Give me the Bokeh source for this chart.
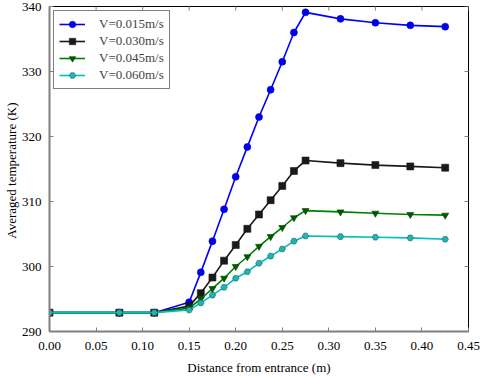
import math
from bokeh.plotting import figure
from bokeh.models import (LinearAxis, Range1d, FixedTicker, Legend, LegendItem,
                          NumeralTickFormatter)
from bokeh.embed import file_html
from bokeh.resources import INLINE

distance = [0.0, 0.075, 0.1125, 0.15, 0.1625, 0.175, 0.1875, 0.2, 0.2125, 0.225,
            0.2375, 0.25, 0.2625, 0.275, 0.3125, 0.35, 0.3875, 0.425]
t_v015 = [292.9, 292.9, 292.9, 294.5, 299.1, 303.9, 308.8, 313.8, 318.4, 323.0,
          327.2, 331.5, 336.0, 339.1, 338.1, 337.5, 337.1, 336.9]
t_v030 = [292.9, 292.9, 292.9, 293.9, 295.9, 298.3, 300.9, 303.3, 305.8, 308.0,
          310.2, 312.4, 314.7, 316.3, 315.9, 315.6, 315.4, 315.2]
t_v045 = [292.9, 292.9, 292.9, 293.6, 295.0, 296.6, 298.2, 300.0, 301.5, 303.1,
          304.6, 306.0, 307.5, 308.6, 308.4, 308.2, 308.0, 307.9]
t_v060 = [292.9, 292.9, 292.9, 293.3, 294.4, 295.6, 296.8, 298.2, 299.2, 300.5,
          301.6, 302.7, 303.9, 304.7, 304.6, 304.5, 304.4, 304.2]
labels = ["V=0.015m/s", "V=0.030m/s", "V=0.045m/s", "V=0.060m/s"]
x_ticks = [0.0, 0.05, 0.1, 0.15, 0.2, 0.25, 0.3, 0.35, 0.4, 0.45]
y_ticks = [290, 300, 310, 320, 330, 340]
x_min, x_max = 0.0, 0.45
y_min, y_max = 290, 340

FONT = "Liberation Serif"

p = figure(width=480, height=377, output_backend="svg", toolbar_location=None,
           x_range=Range1d(x_min, x_max), y_range=Range1d(y_min, y_max),
           min_border_left=48, min_border_right=12, min_border_top=6, min_border_bottom=0,
           x_axis_location=None, y_axis_location=None)
p.grid.visible = False
p.outline_line_color = "black"
p.outline_line_width = 1
p.background_fill_color = "white"
p.border_fill_color = "white"

def style(ax, ticks):
    ax.ticker = FixedTicker(ticks=ticks)
    ax.major_tick_in = 4
    ax.major_tick_out = 0
    ax.minor_tick_in = 0
    ax.minor_tick_out = 0
    ax.major_tick_line_color = "#808080"
    ax.axis_line_color = "#808080"
    ax.axis_line_width = 2
    ax.major_label_text_font = FONT
    ax.major_label_text_font_size = "13px"
    ax.major_label_text_color = "black"
    ax.axis_label_text_font = FONT
    ax.axis_label_text_font_size = "13px"
    ax.axis_label_text_font_style = "normal"
    ax.axis_label_text_color = "black"

xb = LinearAxis(axis_label="Distance from entrance (m)")
style(xb, x_ticks)
xb.formatter = NumeralTickFormatter(format="0.00")
xb.major_label_standoff = 10
xb.axis_label_standoff = 7
yl = LinearAxis(axis_label="Averaged  temperature (K)")
style(yl, y_ticks)
yl.major_label_standoff = 8
yl.axis_label_standoff = 0
p.add_layout(xb, "below")
p.add_layout(yl, "left")

# inward ticks on the top and right frame edges (clipped to the frame)
p.scatter(x_ticks, [y_max] * len(x_ticks), marker="dash", angle=math.pi / 2, size=8,
          line_color="#808080", line_width=1)
p.scatter([x_max] * len(y_ticks), y_ticks, marker="dash", size=8,
          line_color="#808080", line_width=1)

series = [
    (t_v015, "#0000ff", "circle", "#0000ee", "#0000cc", 7),
    (t_v030, "#1a1a1a", "square", "#1a1a1a", "#1a1a1a", 7),
    (t_v045, "#008000", "inverted_triangle", "#005a00", "#004000", 7),
    (t_v060, "#00bfbf", "hex", "#1fb5b5", "#206060", 6.5),
]
items = []
for (vals, lc, mk, fc, ec, sz), lab in zip(series, labels):
    r1 = p.line(distance, vals, line_color=lc, line_width=1.6)
    r2 = p.scatter(distance, vals, marker=mk, size=sz, fill_color=fc, line_color=ec, line_width=0.6)
    items.append(LegendItem(label=lab, renderers=[r1, r2]))

leg = Legend(items=items, location="top_left")
leg.margin = 4
leg.padding = 5
leg.spacing = 1
leg.label_height = 16
leg.glyph_height = 16
leg.glyph_width = 26
leg.label_standoff = 14
leg.label_text_font = FONT
leg.label_text_font_size = "13px"
leg.border_line_color = "black"
leg.border_line_width = 1
leg.background_fill_alpha = 1
p.add_layout(leg, "center")

open("out.html", "w").write(file_html(p, INLINE))
